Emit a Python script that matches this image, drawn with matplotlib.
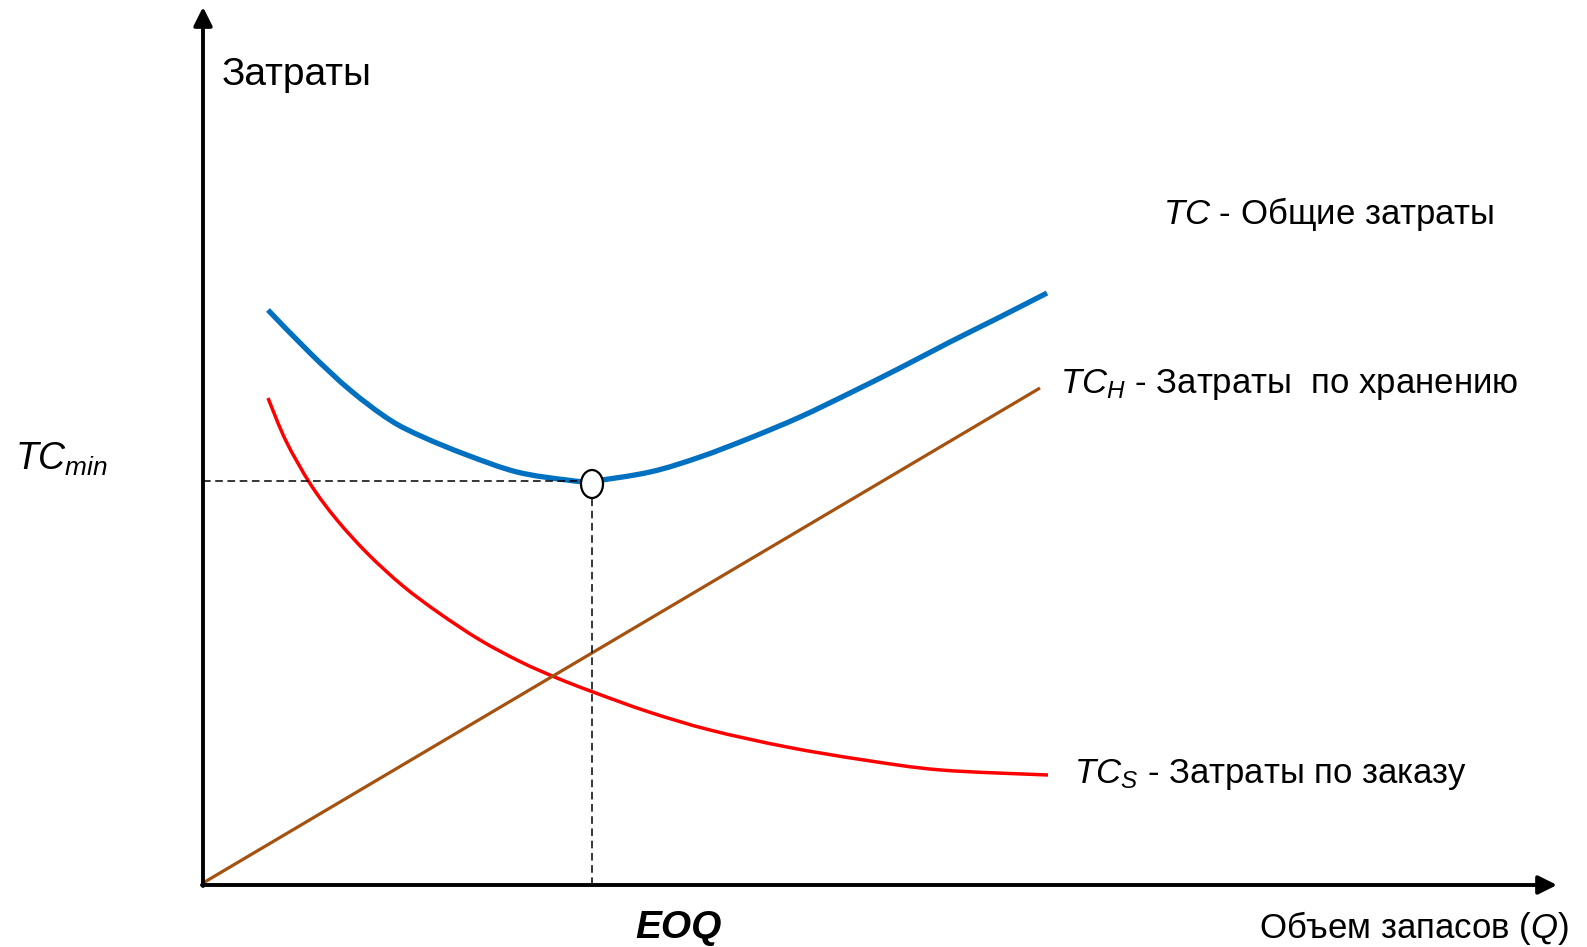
import matplotlib
matplotlib.use("Agg")
import matplotlib.pyplot as plt
from matplotlib.patches import Ellipse, PathPatch
from matplotlib.path import Path

plt.rcParams['font.family'] = ['Liberation Sans', 'DejaVu Sans']
plt.rcParams['mathtext.fontset'] = 'custom'
plt.rcParams['mathtext.rm'] = 'Liberation Sans'
plt.rcParams['mathtext.it'] = 'Liberation Sans:italic'

# total cost TC
q_tc = [65, 107, 147, 187, 220, 264, 314, 364, 389, 447, 497, 547, 597, 647, 697, 747, 797, 844]
tc = [575, 532, 495, 465, 448, 430, 413, 405, 404, 413, 428, 447, 468, 492, 517, 543, 568, 592]

# ordering cost TC_S
q_s = [65, 83, 108, 134, 165, 200, 236, 277, 318, 354, 390, 446, 507, 584, 661, 738, 845]
tc_s = [487, 444, 400, 365, 331, 299, 272, 245, 223, 207, 193, 173, 155, 138, 125, 115, 110]

# holding cost TC_H
q_h = [0, 837]
tc_h = [2, 497]

eoq = 389
tc_min = 404


def smooth_path(xs, ys):
    # bezier path passing through the read points (catmull-rom tangents)
    pts = list(zip(xs, ys))
    verts = [pts[0]]
    codes = [Path.MOVETO]
    for i in range(len(pts) - 1):
        p0 = pts[i - 1] if i > 0 else pts[i]
        p1 = pts[i]
        p2 = pts[i + 1]
        p3 = pts[i + 2] if i + 2 < len(pts) else pts[i + 1]
        c1 = (p1[0] + (p2[0] - p0[0]) / 6, p1[1] + (p2[1] - p0[1]) / 6)
        c2 = (p2[0] - (p3[0] - p1[0]) / 6, p2[1] - (p3[1] - p1[1]) / 6)
        verts += [c1, c2, p2]
        codes += [Path.CURVE4] * 3
    return Path(verts, codes)


fig = plt.figure(figsize=(15.87, 9.47), dpi=100)
ax = fig.add_axes([0, 0, 1, 1])
ax.set_xlim(-203, 1384)
ax.set_ylim(-62, 885)
ax.axis('off')

# axes with arrows
arrow = dict(arrowstyle='-|>,head_length=0.8,head_width=0.4', lw=2.8, color='black',
             mutation_scale=14, shrinkA=0, shrinkB=0)
ax.annotate('', xy=(0, 878), xytext=(0, -1), arrowprops=arrow)
ax.annotate('', xy=(1354, 0), xytext=(-1, 0), arrowprops=arrow)

ax.plot(q_h, tc_h, color='#A55211', lw=2.3, solid_capstyle='butt')
ax.add_patch(PathPatch(smooth_path(q_s, tc_s), facecolor='none', edgecolor='#FF0000', lw=2.5))
ax.add_patch(PathPatch(smooth_path(q_tc, tc), facecolor='none', edgecolor='#0070C0', lw=3.8))

ax.plot([0, eoq], [tc_min, tc_min], color='black', lw=1.1, linestyle=(0, (5, 3)))
ax.plot([eoq, eoq], [0, tc_min], color='black', lw=1.1, linestyle=(0, (5, 3)))
ax.add_patch(Ellipse((eoq, tc_min - 3), 22, 28, facecolor='white', edgecolor='black', lw=1.6, zorder=5))

fs = 25
ax.text(19, 800, 'Затраты', fontsize=28, va='baseline')
ax.text(-188, 415, r'$\mathit{TC}_{\mathit{min}}$', fontsize=27, va='baseline')
ax.text(960, 661, r'$\mathit{TC}$ - Общие затраты', fontsize=fs, va='baseline')
ax.text(857, 492, r'$\mathit{TC}_{\mathit{H}}$ - Затраты  по хранению', fontsize=fs, va='baseline')
ax.text(871, 102, r'$\mathit{TC}_{\mathit{S}}$ - Затраты по заказу', fontsize=fs, va='baseline')
ax.text(432, -53, 'EOQ', fontsize=28, fontweight='bold', style='italic', va='baseline')
ax.text(1366, -53, r'Объем запасов ($\mathit{Q}$)', fontsize=25, va='baseline', ha='right')

fig.savefig('out.png', dpi=100)
